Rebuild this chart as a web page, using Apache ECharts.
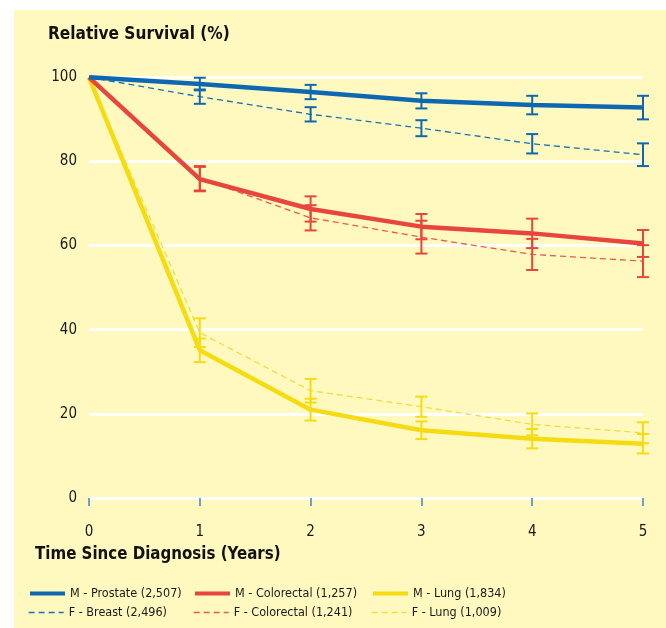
<!DOCTYPE html>
<html>
<head>
<meta charset="utf-8">
<script src="https://cdn.jsdelivr.net/npm/echarts@6/dist/echarts.min.js"></script>
<style>
    body { margin: 0; background: #fff; }
    #bg { position: absolute; left: 14px; top: 10px; width: 652px; height: 618px; background: #fff9c0; }
    #main { position: absolute; left: 0; top: 0; width: 666px; height: 628px; }
</style>
</head>
<body>
<div id="bg"></div>
<div id="main"></div>
<script>
// 年份
var years = [0, 1, 2, 3, 4, 5];
var yTicks = [0, 20, 40, 60, 80, 100];

// 相对生存率 (%) 及误差
var prostate = [100, 98.4, 96.5, 94.4, 93.4, 92.8];
var prostateErr = [0, 1.5, 1.7, 1.8, 2.2, 2.8];
var breast = [100, 95.4, 91.2, 87.9, 84.2, 81.6];
var breastErr = [0, 1.7, 1.7, 1.9, 2.3, 2.7];
var mColorectal = [100, 75.8, 68.7, 64.5, 62.9, 60.5];
var mColorectalErr = [0, 2.9, 3.0, 3.0, 3.5, 3.2];
var fColorectal = [100, 76.0, 66.6, 62.0, 57.9, 56.3];
var fColorectalErr = [0, 2.9, 3.0, 3.9, 3.7, 3.8];
var mLung = [100, 35.1, 21.0, 16.1, 14.1, 12.9];
var mLungErr = [0, 2.8, 2.6, 2.1, 2.3, 2.3];
var fLung = [100, 39.3, 25.5, 21.7, 17.5, 15.5];
var fLungErr = [0, 3.4, 2.8, 2.4, 2.6, 2.5];

var names = ['M - Prostate (2,507)', 'F - Breast (2,496)', 'M - Colorectal (1,257)', 'F - Colorectal (1,241)', 'M - Lung (1,834)', 'F - Lung (1,009)'];

var BLUE = '#0d68b1', RED = '#e8453c', YELLOW = '#f5db12';
var FONT = '"Liberation Sans Narrow", "DejaVu Sans Condensed", Arial, sans-serif';

function pairs(vals) {
    return years.map(function(x, i) { return [x, vals[i]]; });
}

function errData(vals, errs) {
    var out = [];
    for(var i = 0; i < years.length; i++) {
        if(errs[i] > 0) out.push([years[i], vals[i] - errs[i], vals[i] + errs[i]]);
    }
    return out;
}

//误差线
function errSeries(vals, errs, color) {
    return {
        type: 'custom',
        silent: true,
        z: 3,
        data: errData(vals, errs),
        renderItem: function(params, api) {
            var lo = api.coord([api.value(0), api.value(1)]);
            var hi = api.coord([api.value(0), api.value(2)]);
            var w = 6;
            var st = { stroke: color, lineWidth: 2 };
            return {
                type: 'group',
                children: [
                    { type: 'line', shape: { x1: lo[0], y1: lo[1], x2: hi[0], y2: hi[1] }, style: st },
                    { type: 'line', shape: { x1: lo[0] - w, y1: lo[1], x2: lo[0] + w, y2: lo[1] }, style: st },
                    { type: 'line', shape: { x1: hi[0] - w, y1: hi[1], x2: hi[0] + w, y2: hi[1] }, style: st }
                ]
            };
        }
    };
}

function lineSeries(name, vals, color, dashed, z) {
    return {
        name: name,
        type: 'line',
        symbol: 'none',
        z: z,
        data: pairs(vals),
        lineStyle: dashed ? { color: color, width: 1.3, type: [6, 4] } : { color: color, width: 4.5 },
        itemStyle: { color: color }
    };
}

// 图例位置（两行三列）
var legendPos = [[28, 587], [28, 606], [193, 587], [193, 606], [371, 587], [371, 606]];
var legends = names.map(function(n, i) {
    var dashed = i % 2 == 1;
    return {
        data: [n],
        left: legendPos[i][0],
        top: legendPos[i][1],
        padding: 0,
        itemWidth: 35,
        itemHeight: 14,
        selectedMode: false,
        itemStyle: { opacity: 0 },
        lineStyle: dashed ? { width: 1.3 } : { width: 4 },
        textStyle: { fontFamily: FONT, fontSize: 12.5, color: '#1a1a1a' }
    };
});

var myChart = echarts.init(document.getElementById('main'));
var option = {
    animation: false,
    grid: { left: 89, right: 23, top: 77.3, bottom: 130 },
    legend: legends,
    graphic: [{
        type: 'text', left: 48, top: 25, scaleX: 0.95,
        style: { text: 'Relative Survival (%)', fontFamily: FONT, fontSize: 18, fontWeight: 'bold', fill: '#111' }
    }, {
        type: 'text', left: 35, top: 545, scaleX: 0.93,
        style: { text: 'Time Since Diagnosis (Years)', fontFamily: FONT, fontSize: 18, fontWeight: 'bold', fill: '#111' }
    }],
    xAxis: {
        type: 'value',
        min: 0, max: 5, interval: 1,
        offset: 7,
        axisLine: { show: false },
        axisTick: { show: true, length: 8, lineStyle: { color: '#3a86c8', width: 1.5 } },
        splitLine: { show: false },
        axisLabel: { margin: 20, fontFamily: FONT, fontSize: 15, color: '#1a1a1a',
            formatter: function(v) { return years.indexOf(v) >= 0 ? String(v) : ''; } }
    },
    yAxis: {
        type: 'value',
        min: yTicks[0], max: yTicks[yTicks.length - 1], interval: 20,
        axisLine: { show: false },
        axisTick: { show: false },
        splitLine: { lineStyle: { color: '#ffffff', width: 3 } },
        axisLabel: { margin: 12, fontFamily: FONT, fontSize: 15, color: '#1a1a1a' }
    },
    series: [
        lineSeries(names[5], fLung, '#f4dc3a', true, 2),
        lineSeries(names[3], fColorectal, '#ec5a4c', true, 2),
        lineSeries(names[1], breast, '#1a70b6', true, 2),
        lineSeries(names[4], mLung, YELLOW, false, 4),
        lineSeries(names[2], mColorectal, RED, false, 4),
        lineSeries(names[0], prostate, BLUE, false, 4),
        errSeries(fLung, fLungErr, YELLOW),
        errSeries(mLung, mLungErr, YELLOW),
        errSeries(fColorectal, fColorectalErr, RED),
        errSeries(mColorectal, mColorectalErr, RED),
        errSeries(breast, breastErr, BLUE),
        errSeries(prostate, prostateErr, BLUE)
    ]
};
myChart.setOption(option);
</script>
</body>
</html>
